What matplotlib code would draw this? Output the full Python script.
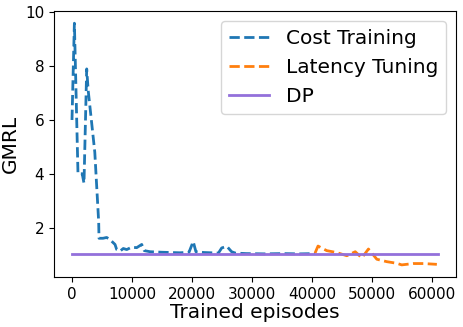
import numpy as np
import matplotlib
matplotlib.use('Agg')
import matplotlib.pyplot as plt

# cost training phase
cost_x = [0, 400, 1000, 1700, 2000, 2450, 2700, 3800, 4450, 4500, 5170, 5780, 6330,
          7170, 7450, 8000, 8550, 9120, 9950, 10780, 11620, 12050, 13000, 15000,
          16500, 18000, 19500, 20200, 20650, 22000, 24400, 24950, 25800, 26600,
          27200, 29000, 32000, 35000, 38000, 40500]
cost_y = [6.0, 9.6, 4.0, 4.0, 3.65, 7.9, 7.1, 4.8, 2.2, 1.6, 1.6, 1.63, 1.55,
          1.37, 1.18, 1.12, 1.22, 1.18, 1.27, 1.25, 1.37, 1.14, 1.1, 1.08,
          1.07, 1.06, 1.08, 1.48, 1.1, 1.07, 1.05, 1.24, 1.3, 1.1,
          1.05, 1.03, 1.02, 1.03, 1.02, 1.03]

# latency tuning phase
lat_x = [40500, 41000, 42450, 44100, 45800, 47200, 48300, 49400, 50800, 52450,
         54100, 54950, 56900, 58550, 60800]
lat_y = [1.05, 1.31, 1.14, 1.07, 0.95, 1.1, 0.87, 1.2, 0.82, 0.73,
         0.67, 0.61, 0.66, 0.66, 0.63]

dp_x = [0, 61000]
dp_y = [1.0, 1.0]

fig = plt.figure(figsize=(4.63, 3.27), dpi=100)
ax = fig.add_axes([0.1166, 0.153, 0.8684, 0.813])
ax.plot(cost_x, cost_y, '--', color='#1f77b4', lw=2, label='Cost Training')
ax.plot(lat_x, lat_y, '--', color='#ff7f0e', lw=2, label='Latency Tuning')
ax.plot(dp_x, dp_y, '-', color='mediumpurple', lw=2, label='DP')

ax.set_xlim(-3000, 64000)
ax.set_xticks([0, 10000, 20000, 30000, 40000, 50000, 60000])
ax.set_yticks([2, 4, 6, 8, 10])
ax.tick_params(labelsize=11)
ax.set_xlabel('Trained episodes', fontsize=14.5, labelpad=1)
ax.set_ylabel('GMRL', fontsize=14.5)
ax.legend(fontsize=14.5, loc='upper right')

fig.savefig('out.png', dpi=100)
